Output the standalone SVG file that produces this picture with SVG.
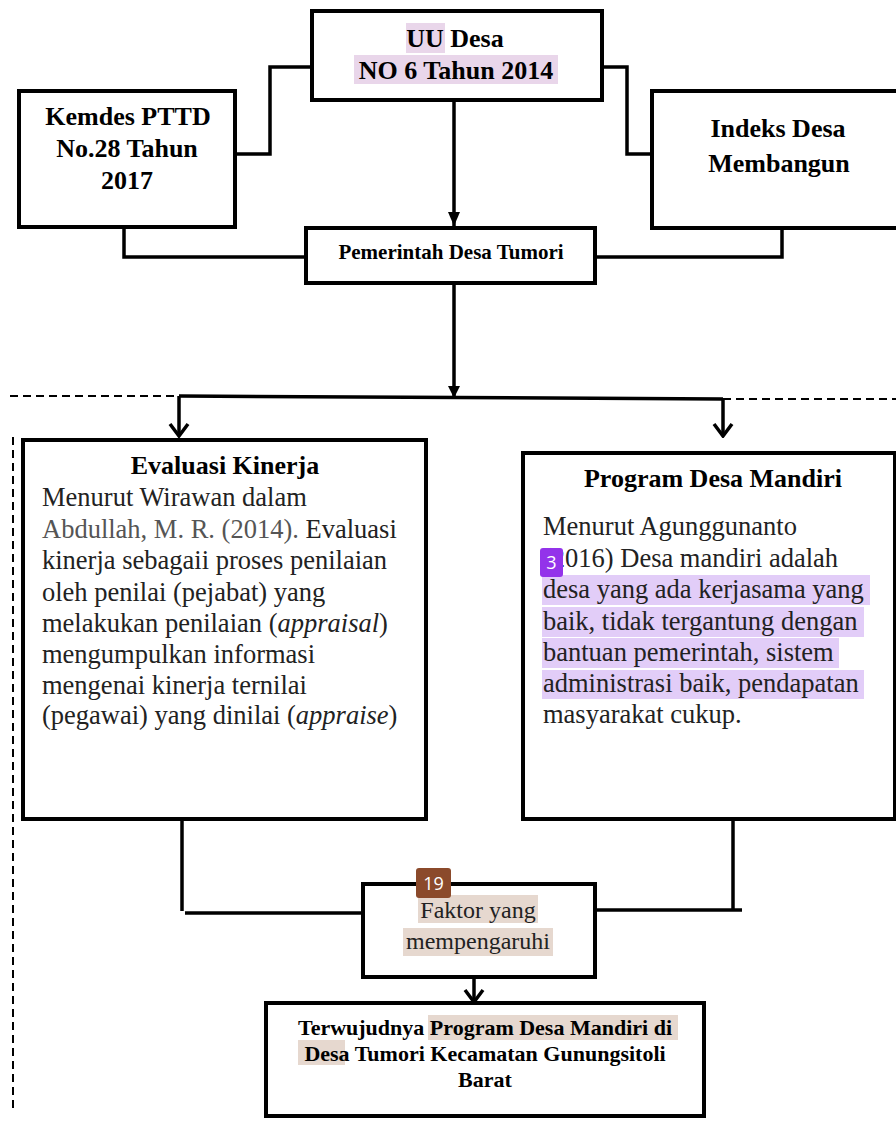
<svg xmlns="http://www.w3.org/2000/svg" width="896" height="1125" viewBox="0 0 896 1125">
<style>
.box{fill:#fff;stroke:#000;stroke-width:4}
.ln{fill:none;stroke:#000;stroke-width:3.5}
.dash{fill:none;stroke:#000;stroke-width:2;stroke-dasharray:8 5}
.b{font-family:"Liberation Serif","Times New Roman",serif;font-weight:bold;fill:#000}
.r{font-family:"Liberation Serif","Times New Roman",serif;fill:#222}
.hp{fill:#e9d6ea}
.hv{fill:#e2cdf8}
.hb{fill:#e6d8cf}
.badge{font-family:"Open Sans","DejaVu Sans",sans-serif;fill:#fff;font-size:18px}
</style>
<defs>
<marker id="chev" markerWidth="16" markerHeight="24" refX="14" refY="12" orient="auto" markerUnits="userSpaceOnUse" viewBox="0 0 16 24">
<path d="M2 3 L14 12 L2 21" fill="none" stroke="#000" stroke-width="3.5"/>
</marker>
<marker id="tri" markerWidth="16" markerHeight="14" refX="15" refY="7" orient="auto" markerUnits="userSpaceOnUse" viewBox="0 0 16 14">
<path d="M1 1 L15 7 L1 13 Z" fill="#000"/>
</marker>
</defs>

<g id="connectors">
<polyline class="ln" points="312,67 270,67 270,154 236,154"/>
<polyline class="ln" points="602,67 627,67 627,154 652,154"/>
<polyline class="ln" points="124,227 124,257 306,257"/>
<polyline class="ln" points="595,257 782,257 782,228"/>
<line class="ln" x1="454" y1="100" x2="454" y2="226" marker-end="url(#tri)"/>
<line class="ln" x1="454" y1="283" x2="454" y2="398"/>
<path d="M448 386 L454 398 L460 386 Z" fill="#000"/>
<line class="ln" x1="179" y1="396" x2="723" y2="399"/>
<line class="ln" x1="179" y1="396" x2="179" y2="436" marker-end="url(#chev)"/>
<line class="ln" x1="723" y1="399" x2="723" y2="436" marker-end="url(#chev)"/>
<line class="dash" x1="10" y1="396" x2="179" y2="396"/>
<line class="dash" x1="723" y1="399" x2="896" y2="399"/>
<line class="dash" x1="13" y1="437" x2="13" y2="1112"/>
<polyline class="ln" points="182,819 182,911"/>
<line class="ln" x1="185" y1="913" x2="363" y2="913"/>
<polyline class="ln" points="733,819 733,910"/>
<line class="ln" x1="595" y1="910" x2="742" y2="910"/>
<line class="ln" x1="474" y1="977" x2="474" y2="1002" marker-end="url(#chev)"/>
</g>

<g id="uu-desa">
<rect class="box" x="312" y="11" width="290" height="89"/>
<rect class="hp" x="406" y="23" width="39" height="30"/>
<rect class="hp" x="354" y="55" width="204" height="29"/>
<text class="b" x="455" y="47" font-size="26" text-anchor="middle">UU Desa</text>
<text class="b" x="456" y="79" font-size="26" text-anchor="middle">NO 6 Tahun 2014</text>
</g>

<g id="kemdes">
<rect class="box" x="19" y="91" width="216" height="136"/>
<text class="b" x="128" y="125" font-size="26" text-anchor="middle">Kemdes PTTD</text>
<text class="b" x="127" y="157" font-size="26" text-anchor="middle">No.28 Tahun</text>
<text class="b" x="127" y="189" font-size="26" text-anchor="middle">2017</text>
</g>

<g id="indeks">
<rect class="box" x="652" y="91" width="260" height="137"/>
<text class="b" x="778" y="137" font-size="26" text-anchor="middle">Indeks Desa</text>
<text class="b" x="779" y="172" font-size="26" text-anchor="middle">Membangun</text>
</g>

<g id="pemerintah">
<rect class="box" x="306" y="228" width="289" height="55"/>
<text class="b" x="451" y="259" font-size="21" text-anchor="middle">Pemerintah Desa Tumori</text>
</g>

<g id="evaluasi">
<rect class="box" x="23" y="440" width="403" height="379"/>
<text class="b" x="225" y="474" font-size="26" text-anchor="middle">Evaluasi Kinerja</text>
<g class="r" font-size="26.5">
<text x="42" y="506">Menurut Wirawan dalam</text>
<text x="42" y="538"><tspan fill="#555">Abdullah, M. R. (2014).</tspan> Evaluasi</text>
<text x="42" y="569">kinerja sebagaii proses penilaian</text>
<text x="42" y="601">oleh penilai (pejabat) yang</text>
<text x="42" y="632">melakukan penilaian (<tspan font-style="italic">appraisal</tspan>)</text>
<text x="42" y="663">mengumpulkan informasi</text>
<text x="42" y="694">mengenai kinerja ternilai</text>
<text x="42" y="724">(pegawai) yang dinilai (<tspan font-style="italic">appraise</tspan>)</text>
</g>
</g>

<g id="program">
<rect class="box" x="523" y="453" width="372" height="366"/>
<text class="b" x="713" y="487" font-size="26" text-anchor="middle">Program Desa Mandiri</text>
<rect class="hv" x="542" y="575" width="328" height="30"/>
<rect class="hv" x="542" y="607" width="322" height="30"/>
<rect class="hv" x="542" y="638" width="297" height="30"/>
<rect class="hv" x="542" y="670" width="322" height="29"/>
<g class="r" font-size="26.5">
<text x="543" y="535">Menurut Agunggunanto</text>
<text x="543" y="567">(2016) Desa mandiri adalah</text>
<text x="543" y="598">desa yang ada kerjasama yang</text>
<text x="543" y="630">baik, tidak tergantung dengan</text>
<text x="543" y="661">bantuan pemerintah, sistem</text>
<text x="543" y="692">administrasi baik, pendapatan</text>
<text x="543" y="723">masyarakat cukup.</text>
</g>
<rect x="540" y="548" width="23" height="29" rx="3" fill="#9333ea"/>
<text class="badge" x="551.5" y="569" text-anchor="middle">3</text>
</g>

<g id="faktor">
<rect class="box" x="363" y="884" width="232" height="93"/>
<rect class="hb" x="418" y="895" width="120" height="28"/>
<rect class="hb" x="403" y="928" width="150" height="28"/>
<text class="r" x="478" y="918" font-size="24" text-anchor="middle">Faktor yang</text>
<text class="r" x="478" y="949" font-size="24" text-anchor="middle">mempengaruhi</text>
<rect x="416" y="868" width="35" height="30" rx="3" fill="#8b4a2b"/>
<text class="badge" x="433.5" y="890" text-anchor="middle">19</text>
</g>

<g id="terwujudnya">
<rect class="box" x="266" y="1003" width="438" height="113"/>
<rect class="hb" x="428" y="1015" width="250" height="25"/>
<rect class="hb" x="298" y="1040" width="47" height="25"/>
<text class="b" x="485" y="1035" font-size="22" text-anchor="middle">Terwujudnya Program Desa Mandiri di</text>
<text class="b" x="485" y="1061" font-size="22" text-anchor="middle">Desa Tumori Kecamatan Gunungsitoli</text>
<text class="b" x="485" y="1087" font-size="22" text-anchor="middle">Barat</text>
</g>
</svg>
